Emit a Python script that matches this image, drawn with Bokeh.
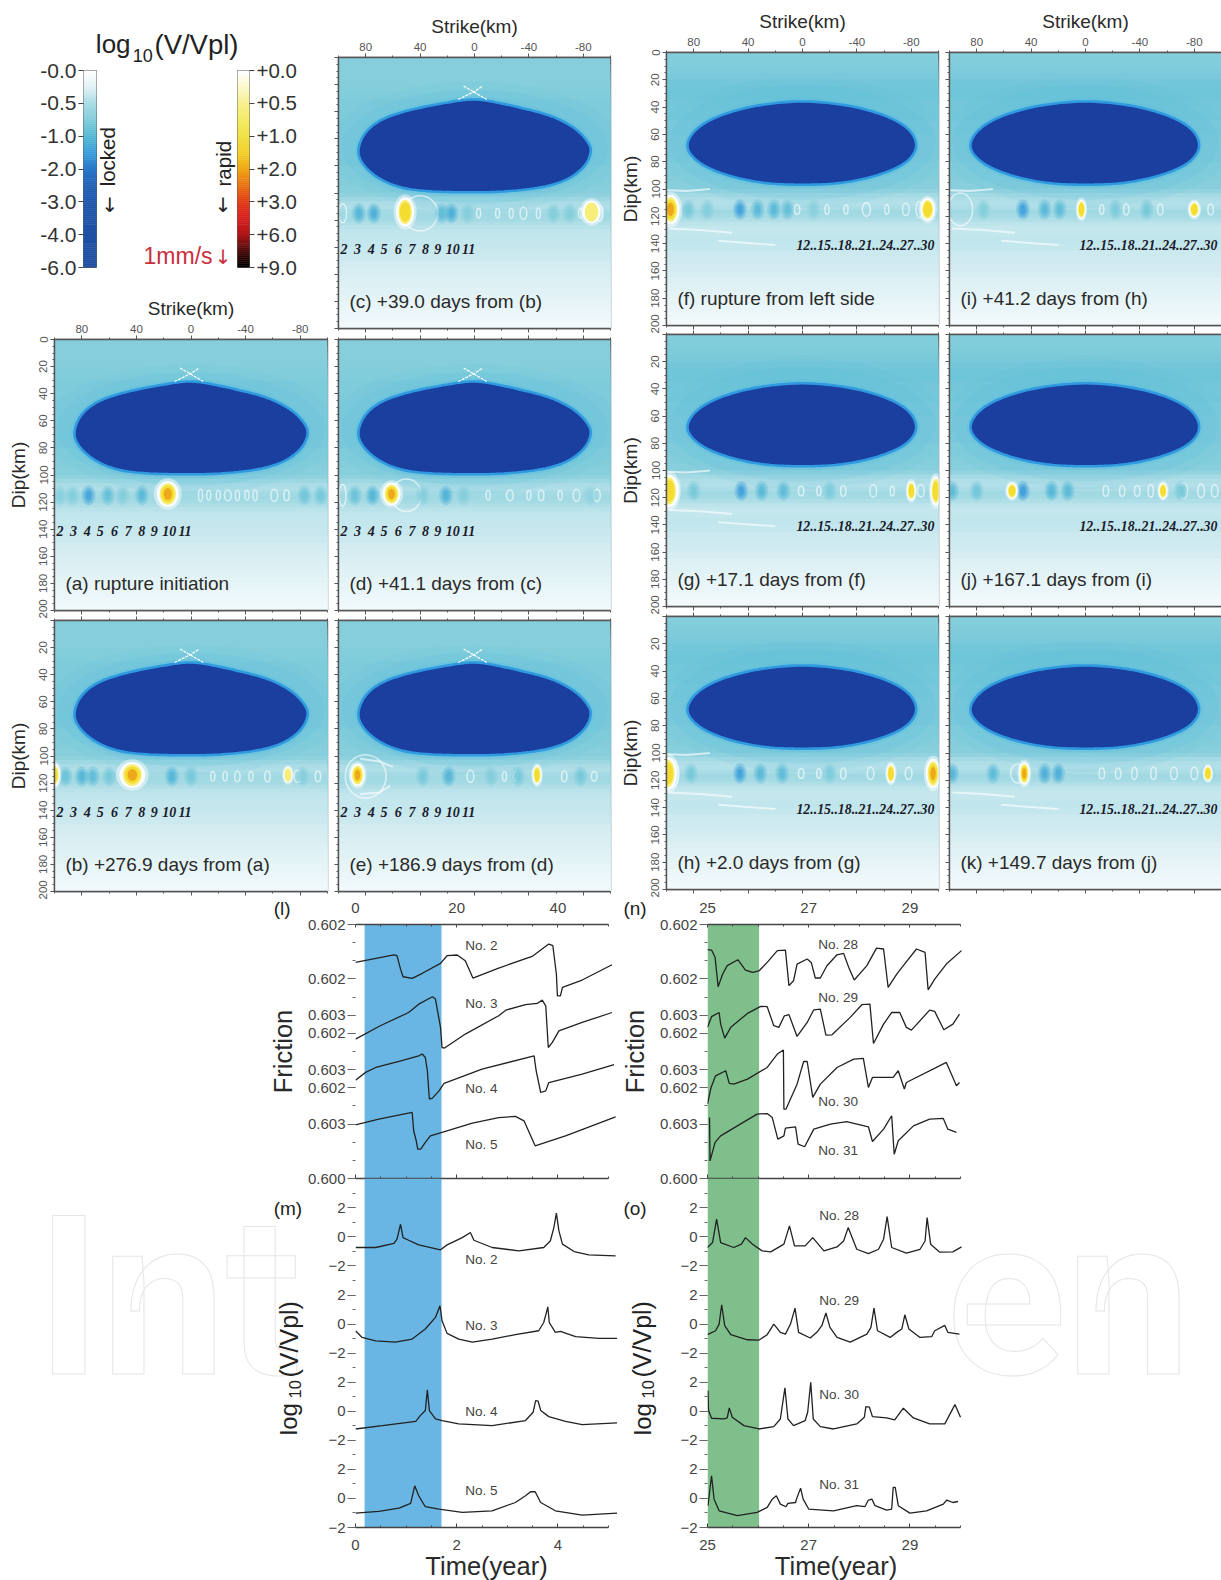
from bokeh.plotting import figure
from bokeh.embed import file_html
from bokeh.resources import INLINE
from bokeh.layouts import column
from bokeh.models import (LinearAxis, FixedTicker, Range1d, LinearColorMapper, ColumnDataSource)
from bokeh.core.properties import value
import numpy as np, math

SANS = "Liberation Sans"
# ---------------------------------------------------------------- colour legend
LOCKED_LABELS = ["-6.0", "-4.0", "-3.0", "-2.0", "-1.0", "-0.5", "-0.0"]
RAPID_LABELS = ["+9.0", "+6.0", "+3.0", "+2.0", "+1.0", "+0.5", "+0.0"]
LOCKED_RAMP = ["#1f4fa0", "#1f50a2", "#1f52a6", "#1f54a8", "#1e57ae", "#2060b6", "#2a78c8", "#3a9edc", "#55b8d4", "#7fcad8", "#a8dce6", "#ddf1f5", "#ffffff"]
RAPID_RAMP = ["#000000", "#4a0808", "#b01818", "#d81e1e", "#e23a14", "#e87010", "#f0a818", "#f2d028", "#f0e040", "#f2ea60", "#f6f090", "#fbf8c8", "#ffffff"]
# background value by dip (log10 V/Vpl)
BG_DIP = [0, 5, 10, 15, 20, 25, 30, 35, 40, 50, 60, 70, 80, 90, 95, 100, 103, 106, 109, 112, 115, 118, 121, 124, 127, 130, 135, 140, 145, 150, 155, 160, 165, 170, 175, 180, 185, 190, 195]
BG_LEFT = [-.56, -.56, -.56, -.57, -.58, -.6, -.62, -.62, -.62, -.62, -.62, -.62, -.6, -.58, -.55, -.5, -.44, -.38, -.36, -.4, -.42, -.4, -.36, -.32, -.28, -.26, -.27, -.25, -.23, -.21, -.19, -.17, -.15, -.14, -.12, -.11, -.1, -.08, -.07]
BG_RIGHT = [-.58, -.6, -.62, -.66, -.7, -.72, -.72, -.7, -.68, -.64, -.62, -.62, -.6, -.58, -.55, -.48, -.4, -.36, -.34, -.38, -.42, -.4, -.36, -.3, -.26, -.26, -.28, -.26, -.24, -.22, -.2, -.18, -.16, -.14, -.12, -.11, -.1, -.08, -.07]
# locked patch outlines (strike, dip)
LOCK_L_S = [86.4, 82.2, 73.6, 61.4, 41.8, 17.4, 0, -16.9, -36.5, -56.1, -73.2, -83, -86.6, -80.5, -65.8, -46.2, -19.3, 0, 29.6, 54, 71.1, 82.2]
LOCK_L_D = [69.6, 57.3, 48.7, 42.6, 37.2, 32.7, 30.3, 33.2, 37.6, 42.6, 51.2, 61, 69.6, 81.9, 91.8, 96.7, 99.2, 99.6, 99.2, 96.7, 89.3, 79.4]
LOCK_R_S = [86.4, 80, 66, 45, 22, 0, -22, -45, -66, -80, -85, -78, -62, -40, -20, 0, 20, 40, 62, 78]
LOCK_R_D = [69, 57, 48, 41, 37, 35.5, 37, 41, 48, 57, 69, 80, 88, 94, 96.5, 97, 96.5, 94, 88, 80]
# asperity row, per panel: (strike, log V) ; (strike, w, h) ; (strike, dip, rx, ry, level)
COOL_A = [(96, -.55), (87, -.6), (75, -1.2), (61, -.85), (50, -.6), (36, -.95), (-83, -.75), (-95, -.7)]
RING_A = [(-7, 3, 9), (-13, 3, 7), (-20, 3, 7), (-27, 5, 8), (-34, 3, 8), (-41, 3, 7), (-47, 3, 8), (-61, 5, 9), (-70, 4, 8)]
HOT_A = [(17, 114, 6, 8, 2)]
COOL_B = [(92, -.8), (80, -1.0), (72, -.9), (60, -.7), (14, -1.0), (0, -.7), (-82, -.6)]
RING_B = [(-16, 3, 7), (-25, 3, 7), (-34, 4, 8), (-44, 3, 7), (-56, 4, 8), (-78, 5, 9), (-93, 4, 8)]
HOT_B = [(100, 114, 3, 7, 1), (43, 114, 7, 8, 2), (-71, 114, 2.5, 5, 0)]
COOL_C = [(85, -1.0), (74, -1.1), (24, -.9), (17, -1.1), (5, -.6), (-58, -.6), (-70, -.6)]
RING_C = [(97, 6, 14), (40, 26, 26), (-3, 3, 7), (-17, 3, 7), (-27, 3, 7), (-36, 5, 9), (-47, 3, 8), (-78, 3, 7), (-92, 5, 12)]
HOT_C = [(51, 114, 5, 9, 1), (-86, 114, 5, 7, 0)]
COOL_D = [(88, -.8), (75, -1.0), (38, -.6), (21, -1.05), (8, -.6), (-85, -.5)]
RING_D = [(97, 5, 16), (50, 22, 24), (-10, 3, 7), (-26, 5, 8), (-40, 3, 7), (-49, 4, 8), (-63, 3, 7), (-75, 5, 9), (-90, 5, 9)]
HOT_D = [(61, 114, 5, 7, 2)]
COOL_E = [(38, -.7), (19, -1.0), (-12, -.6), (-32, -.7), (-78, -.7)]
RING_E = [(80, 30, 32), (3, 5, 9), (-22, 3, 7), (-30, 3, 7), (-66, 4, 8), (-88, 4, 7)]
HOT_E = [(86, 114, 4, 7, 2), (-46, 114, 2.5, 6, 1)]
COOL_F = [(84, -.7), (70, -.6), (46, -1.25), (33, -.95), (21, -.95), (11, -.85), (-8, -.55)]
RING_F = [(4, 4, 7), (-18, 3, 7), (-32, 3, 7), (-47, 6, 10), (-62, 3, 7), (-76, 5, 9), (-86, 5, 12)]
HOT_F = [(97, 115, 5, 9, 2), (-92, 115, 4, 7, 1)]
COOL_G = [(80, -.7), (45, -1.25), (30, -.95), (14, -.9), (-20, -.65)]
RING_G = [(96, 10, 20), (1, 4, 7), (-12, 3, 7), (-30, 4, 8), (-52, 5, 9), (-66, 3, 7), (-87, 5, 9)]
HOT_G = [(98, 115, 5, 10, 1), (-80, 115, 2.5, 6, 1), (-98, 115, 3, 9, 1)]
COOL_H = [(82, -.7), (46, -1.25), (31, -.95), (15, -.9), (-20, -.65)]
RING_H = [(96, 10, 20), (1, 4, 7), (-12, 3, 7), (-30, 4, 8), (-50, 5, 9), (-78, 5, 9)]
HOT_H = [(99, 115, 5, 10, 1), (-65, 115, 2.5, 6, 1), (-96, 115, 4, 9, 2)]
COOL_I = [(75, -.6), (46, -1.25), (30, -.95), (19, -.9), (-22, -.65), (-45, -.7)]
RING_I = [(92, 18, 24), (3, 4, 7), (-12, 3, 7), (-30, 4, 8), (-55, 4, 8), (-92, 4, 8)]
HOT_I = [(3, 115, 2.5, 6, 1), (-80, 115, 3, 5, 1)]
COOL_J = [(98, -.9), (80, -.75), (46, -1.3), (25, -1.0), (13, -.95), (-70, -.7)]
RING_J = [(-15, 4, 8), (-27, 4, 8), (-38, 4, 8), (-48, 4, 9), (-72, 6, 12), (-85, 5, 10), (-95, 5, 9)]
HOT_J = [(54, 115, 3, 5, 1), (-57, 115, 2.5, 5, 1)]
COOL_K = [(98, -1.0), (68, -.9), (30, -1.1), (20, -1.1), (-90, -.8)]
RING_K = [(50, 10, 14), (-12, 4, 8), (-24, 4, 8), (-36, 4, 9), (-50, 4, 9), (-65, 5, 9), (-80, 5, 9)]
HOT_K = [(45, 115, 3, 7, 2), (-90, 115, 2.5, 5, 1)]
STRIKE_NUMS = ["2", "3", "4", "5", "6", "7", "8", "9", "10", "11"]
STRIKE_NUM_POS = [96, 86, 76, 66.5, 56, 46, 36, 27, 16, 4.4]
RIGHT_NUMS = "12..15..18..21..24..27..30"

# ---------------------------------------------------------------- friction traces (stacked axis units)
T2 = [0, .76, .82, .89, .94, 1.12, 1.32, 1.68, 1.81, 2.01, 2.17, 2.32, 2.83, 3.49, 3.82, 3.90, 3.97, 3.99, 4.05, 4.09, 4.48, 5.07]
F2 = [11.91, 12.33, 12.28, 11.54, 11.12, 11.03, 11.31, 11.86, 12.28, 12.32, 12.0, 11.05, 11.6, 12.24, 12.92, 12.83, 11.27, 10.07, 10.07, 10.53, 10.94, 11.78]
T3 = [0, .49, 1.05, 1.25, 1.52, 1.58, 1.68, 1.71, 1.76, 2.17, 2.83, 2.97, 3.36, 3.59, 3.69, 3.76, 3.81, 3.89, 4.02, 4.48, 5.07]
F3 = [7.68, 8.42, 9.15, 9.61, 10.02, 9.89, 8.33, 7.22, 7.19, 7.96, 8.97, 9.28, 9.58, 9.65, 9.83, 9.52, 7.22, 7.5, 8.14, 8.60, 9.15]
T4 = [0, .2, .40, .86, 1.25, 1.32, 1.38, 1.42, 1.46, 1.52, 1.65, 1.75, 2.50, 3.53, 3.57, 3.66, 3.76, 3.82, 4.48, 5.11]
F4 = [5.42, 5.85, 6.12, 6.45, 6.76, 6.86, 6.67, 5.94, 4.38, 4.43, 4.83, 5.24, 6.03, 6.76, 5.94, 4.74, 4.83, 5.29, 5.75, 6.27]
T5 = [0, .46, 1.12, 1.15, 1.20, 1.23, 1.29, 1.38, 1.48, 1.71, 2.31, 2.83, 3.16, 3.33, 3.55, 4.15, 5.14]
F5 = [2.96, 3.27, 3.64, 2.63, 2.08, 1.62, 1.62, 1.99, 2.35, 2.54, 3.05, 3.36, 3.42, 3.18, 1.80, 2.35, 3.40]
T28 = [25, 25.08, 25.15, 25.21, 25.30, 25.39, 25.60, 25.75, 25.89, 26.02, 26.18, 26.38, 26.54, 26.61, 26.70, 26.77, 26.97, 27.05, 27.13, 27.23, 27.36, 27.56, 27.69, 27.79, 27.90, 28.15, 28.34, 28.48, 28.57, 28.74, 28.87, 29.13, 29.30, 29.36, 29.49, 29.72, 30.02]
F28 = [12.61, 12.59, 12.19, 10.57, 11.27, 11.73, 12.06, 11.49, 11.36, 11.45, 11.91, 12.56, 12.59, 10.63, 10.90, 11.82, 12.10, 11.91, 11.05, 11.05, 11.73, 12.33, 12.41, 11.64, 10.94, 11.73, 12.70, 12.65, 10.53, 11.27, 11.73, 12.65, 12.46, 10.40, 10.99, 11.82, 12.56]
T29 = [25, 25.08, 25.23, 25.26, 25.34, 25.46, 25.79, 26.05, 26.18, 26.31, 26.41, 26.52, 26.61, 26.77, 26.97, 27.10, 27.23, 27.34, 27.46, 27.82, 28.05, 28.21, 28.28, 28.48, 28.64, 28.80, 28.93, 29.03, 29.39, 29.49, 29.67, 29.85, 29.98]
F29 = [8.33, 8.92, 9.15, 8.51, 7.74, 8.33, 9.10, 9.49, 9.47, 8.42, 8.33, 8.97, 9.03, 7.83, 8.60, 9.30, 9.34, 7.90, 7.92, 8.88, 9.58, 9.61, 7.44, 8.51, 9.15, 9.15, 8.33, 8.18, 9.28, 9.21, 8.20, 8.51, 9.06]
T30 = [25, 25.07, 25.16, 25.36, 25.43, 25.52, 25.79, 26.18, 26.38, 26.50, 26.51, 26.55, 26.77, 26.90, 26.97, 27.08, 27.23, 27.56, 27.89, 28.08, 28.18, 28.26, 28.67, 28.77, 28.89, 28.93, 29.72, 29.92, 29.98]
F30 = [4.10, 5.02, 5.66, 5.94, 5.24, 5.20, 5.48, 6.12, 6.86, 7.08, 3.82, 3.82, 5.20, 6.45, 6.45, 4.47, 5.20, 6.12, 6.58, 6.62, 5.02, 5.57, 5.57, 5.94, 4.93, 5.29, 6.40, 5.11, 5.29]
T31 = [25.04, 25.05, 25.15, 25.26, 25.59, 25.98, 26.18, 26.28, 26.39, 26.51, 26.54, 26.74, 26.79, 26.92, 27.10, 27.43, 27.75, 28.18, 28.26, 28.48, 28.64, 28.69, 28.77, 29.07, 29.39, 29.66, 29.75, 29.92]
F31 = [3.36, 0.97, 1.99, 2.35, 2.90, 3.55, 3.58, 3.36, 2.17, 2.35, 2.78, 2.85, 1.89, 1.75, 2.72, 3.00, 3.14, 2.85, 2.04, 2.72, 3.46, 1.34, 2.08, 2.90, 3.27, 3.31, 2.72, 2.54]
# ---------------------------------------------------------------- log10(V/Vpl) traces
MT2 = [0, .40, .76, .82, .89, .94, 1.05, 1.25, 1.68, 1.81, 2.11, 2.27, 2.34, 2.70, 3.23, 3.72, 3.85, 3.92, 3.97, 4.02, 4.09, 4.32, 4.61, 5.14]
MV2 = [-.73, -.73, -.44, -.16, .87, -.05, -.23, -.55, -.89, -.55, -.05, .30, -.23, -.73, -.96, -.73, -.28, .64, 1.63, .41, -.50, -1.01, -1.24, -1.31]
MT3 = [0, .13, .40, .79, 1.12, 1.38, 1.58, 1.67, 1.71, 1.81, 2.04, 2.31, 2.70, 3.16, 3.62, 3.72, 3.79, 3.80, 3.83, 3.95, 4.05, 4.35, 4.81, 5.17]
MV3 = [-.46, -.92, -1.15, -1.24, -1.03, -.34, .46, 1.26, .23, -.64, -1.03, -1.24, -1.03, -.73, -.46, .11, 1.03, 1.19, .11, -.57, -.50, -.87, -.99, -.99]
MT4 = [0, .53, 1.19, 1.28, 1.38, 1.42, 1.46, 1.58, 1.71, 2.04, 2.70, 3.36, 3.51, 3.56, 3.61, 3.66, 3.82, 4.15, 4.48, 5.17]
MV4 = [-1.22, -.99, -.69, -.30, .05, 1.47, .05, -.53, -.64, -.87, -.99, -.64, -.07, .73, .69, .05, -.37, -.69, -.92, -.80]
MT5 = [0, .46, .86, 1.09, 1.17, 1.25, 1.38, 1.65, 2.11, 2.70, 3.16, 3.36, 3.46, 3.55, 3.66, 3.95, 4.48, 5.17]
MV5 = [-1.01, -.89, -.67, -.34, .87, .18, -.57, -.73, -.96, -.85, -.28, .18, .46, .46, -.28, -.85, -1.15, -1.01]
OT28 = [25, 25.10, 25.18, 25.26, 25.52, 25.67, 25.75, 25.89, 26.08, 26.25, 26.51, 26.62, 26.72, 26.93, 27.08, 27.30, 27.56, 27.69, 27.78, 27.95, 28.18, 28.38, 28.48, 28.55, 28.64, 28.93, 29.20, 29.30, 29.34, 29.41, 29.59, 29.85, 30.02]
OV28 = [-.73, -.39, 1.22, -.39, -.73, -.50, -.05, -.50, -.96, -1.03, -.50, .76, -.62, -.62, -.05, -.96, -.69, -.28, .64, -.85, -1.15, -.85, -.16, 1.40, -.73, -1.12, -.85, -.28, 1.33, -.50, -1.05, -1.03, -.69]
OT29 = [25, 25.16, 25.23, 25.28, 25.34, 25.46, 25.79, 26.02, 26.18, 26.31, 26.44, 26.54, 26.64, 26.73, 26.80, 27.03, 27.16, 27.26, 27.34, 27.42, 27.56, 27.82, 28.15, 28.23, 28.29, 28.36, 28.61, 28.74, 28.84, 28.90, 28.98, 29.20, 29.43, 29.49, 29.69, 29.75, 29.98]
OV29 = [-.73, -.46, 0, 1.33, -.11, -.73, -1.08, -1.10, -.73, 0, -.57, -.69, 0, 1.10, -.57, -.96, -.57, -.11, .76, -.23, -.92, -1.24, -.69, -.23, 1.10, -.46, -.92, -.57, -.34, .64, -.34, -.92, -.87, -.46, -.09, -.57, -.69]
OT30 = [25.01, 25.02, 25.08, 25.33, 25.39, 25.43, 25.49, 25.72, 26.02, 26.31, 26.44, 26.53, 26.59, 26.70, 26.93, 26.98, 27.04, 27.09, 27.23, 27.49, 27.95, 28.10, 28.13, 28.20, 28.26, 28.54, 28.70, 28.87, 29.07, 29.39, 29.69, 29.89, 30.00]
OV30 = [1.42, .05, -.48, -.53, -.46, .23, -.41, -.99, -1.22, -1.06, -.53, 1.61, -.53, -.99, -.64, -.07, 2.0, -.53, -1.06, -1.22, -.87, -.41, .32, .28, -.37, -.46, -.60, .21, -.46, -.87, -.87, .46, -.41]
OT31 = [25.01, 25.08, 25.13, 25.23, 25.59, 25.98, 26.18, 26.28, 26.36, 26.44, 26.55, 26.59, 26.74, 26.77, 26.84, 26.89, 27.00, 27.49, 27.95, 28.11, 28.18, 28.25, 28.31, 28.54, 28.64, 28.67, 28.71, 28.77, 29.00, 29.33, 29.66, 29.73, 29.85, 29.95]
OV31 = [-.50, 1.56, -.05, -.85, -1.19, -.96, -.62, -.05, .18, -.39, -.57, -.34, -.28, .07, .71, -.05, -.73, -.85, -.50, -.57, -.11, -.05, -.50, -.80, -.73, .76, .76, -.50, -1.01, -.85, -.39, -.11, -.28, -.21]
FRIC_TICK_LABELS = {0: "0.600", 3: "0.603", 5: "0.602", 6: "0.603", 8: "0.602", 9: "0.603", 11: "0.602", 14: "0.602"}
VEL_OFFSETS = [18, 12, 6, 0]
BAND_L = (0.18, 1.70)
BAND_N = (25.0, 26.02)

PAL_STOPS = ["#2560b4", "#2a6ec0", "#2f84d0", "#3a9edc", "#50b4d6", "#6cc4d8", "#8fd2de", "#c8e8ee", "#ffffff"]
def ramp(stops, n):
    c = np.array([[int(s[i:i + 2], 16) for i in (1, 3, 5)] for s in stops], float)
    xs = np.linspace(0, len(stops) - 1, n)
    out = []
    for x in xs:
        out.append("#%02x%02x%02x" % tuple(int(round(np.interp(x, range(len(stops)), c[:, k]))) for k in range(3)))
    return out
MAPPER = LinearColorMapper(palette=ramp(PAL_STOPS, 129), low=-2, high=0)
figs = []

def ramp_colors(vals):
    pal = MAPPER.palette
    return [pal[int(round((v + 2) / 2 * (len(pal) - 1)))] for v in vals]

def place(p, left, top):
    # each figure sits in a column of its own, so that frames are not aligned across figures
    wrap = column(p, styles={"position": "absolute", "left": f"{left}px", "top": f"{top}px"})
    figs.append(wrap)

def chaikin(xs, ys, n=3):
    pts = np.column_stack([xs, ys])
    for _ in range(n):
        nxt = np.roll(pts, -1, axis=0)
        a = .75 * pts + .25 * nxt
        b = .25 * pts + .75 * nxt
        pts = np.empty((2 * len(a), 2))
        pts[0::2] = a
        pts[1::2] = b
    return pts[:, 0], pts[:, 1]

def axis_style(ax, color="#555555"):
    ax.axis_line_color = color
    ax.axis_line_width = 1.4
    ax.major_tick_line_color = color
    ax.minor_tick_line_color = color
    ax.major_label_text_font = SANS
    ax.axis_label_text_font = SANS
    ax.axis_label_text_font_style = "normal"
    ax.axis_label_text_color = "#2a2a2a"

STRIKE_TICKS = [-80, -40, 0, 40, 80]
DIP_TICKS = list(range(0, 201, 20))

def panel(x0, y0, x1, y1, label, bg, lock, cool, rings, hots, streaks, nums, strike_axis=False, dip_labels=None, cusp=True, right_edge=False):
    L, T, R, B = 52, 48, (0 if right_edge else 5), 8
    p = figure(frame_width=x1 - x0, frame_height=y1 - y0, x_range=Range1d(100, -100), y_range=Range1d(200, 0),
               x_axis_location=None, y_axis_location=None, toolbar_location=None, output_backend="svg",
               min_border_left=L, min_border_right=R, min_border_top=T, min_border_bottom=B,
               background_fill_color=None, border_fill_color=None, outline_line_color="#555555", outline_line_width=1.4)
    p.grid.visible = False
    p.quad(left=100, right=-100, top=BG_DIP, bottom=[200] * len(BG_DIP), fill_color=ramp_colors(bg), line_color=None)
    p.ellipse([0], [66], width=215, height=96, fill_color="#5cbcd8", fill_alpha=.1, line_color=None)
    p.ellipse([0], [66], width=196, height=84, fill_color="#4cb4dc", fill_alpha=.12, line_color=None)
    sx, sd = chaikin(*lock)
    p.patch(sx, sd, fill_color=None, line_color="#5cbce0", line_width=7, line_alpha=.35)
    p.patch(sx, sd, fill_color="#1b3f9e", line_color="#2f9ae0", line_width=2.6)
    for s, w, h in rings:
        p.ellipse([s], [115], width=w, height=h, fill_color=None, line_color="white", line_width=1.5, line_alpha=.6)
    if cool:
        cs = [c[0] for c in cool]
        cv = [c[1] for c in cool]
        src = ColumnDataSource(dict(x=cs, y=[115] * len(cs), v=cv))
        fc = {"field": "v", "transform": MAPPER}
        p.ellipse("x", "y", width=10, height=15, fill_color=fc, fill_alpha=.3, line_color=None, source=src)
        p.ellipse("x", "y", width=7, height=11, fill_color=fc, fill_alpha=.45, line_color=None, source=src)
        p.ellipse("x", "y", width=4, height=7, fill_color=fc, fill_alpha=.7, line_color=None, source=src)
    for s, d, rx, ry, lev in hots:
        p.ellipse([s], [d], width=rx * 3.4, height=ry * 2.9, fill_color="white", fill_alpha=.45, line_color=None)
        p.ellipse([s], [d], width=rx * 2.7, height=ry * 2.4, fill_color="white", fill_alpha=.9, line_color=None)
        p.ellipse([s], [d], width=rx * 2, height=ry * 2, fill_color="#f7ee7a", line_color=None)
        if lev >= 1:
            p.ellipse([s], [d], width=rx * 1.6, height=ry * 1.6, fill_color="#f5dc30", line_color=None)
        if lev >= 2:
            p.ellipse([s], [d], width=rx * 1.0, height=ry * 1.1, fill_color="#eea81c", line_color=None)
    for st in streaks:
        p.line([q[0] for q in st], [q[1] for q in st], line_color="white", line_width=2, line_alpha=.6)
    if cusp:
        p.line([8, -9], [21, 31], line_color="white", line_width=1.2, line_dash="3 1")
        p.line([12, 0, -6], [31, 25, 21], line_color="white", line_width=1.2, line_dash="3 1")
    if nums == "left":
        p.text(STRIKE_NUM_POS, [141] * 10, text=STRIKE_NUMS, text_font=value("Liberation Serif"), text_font_style="bold italic",
               text_font_size="14px", text_color="#1a1a2a", text_align="center", text_baseline="middle")
    else:
        p.text([-97], [141], text=[RIGHT_NUMS], text_font=value("Liberation Serif"), text_font_style="bold italic",
               text_font_size="13.8px", text_color="#1a1a2a", text_align="right", text_baseline="middle")
    p.text([92], [180], text=[label], text_font=value(SANS), text_font_size="19px", text_color="#2a2a2a", text_baseline="middle")

    def strike_axis_make(labelled):
        ax = LinearAxis(ticker=FixedTicker(ticks=STRIKE_TICKS, minor_ticks=list(range(-100, 101, 20))))
        axis_style(ax)
        ax.major_tick_out = 4; ax.minor_tick_out = 2; ax.major_tick_in = 0; ax.minor_tick_in = 0
        if labelled:
            ax.major_label_overrides = {-80: "-80", -40: "-40", 0: "0", 40: "40", 80: "80"}
            ax.major_label_text_font_size = "11.5px"
            ax.major_label_text_color = "#555555"
            ax.major_label_standoff = 3
            ax.axis_label = "Strike(km)"
            ax.axis_label_text_font_size = "19px"
            ax.axis_label_standoff = 3
        else:
            ax.major_label_overrides = {t: "" for t in STRIKE_TICKS}
            ax.major_label_text_font_size = "1px"
            ax.major_label_standoff = 0
        return ax
    def dip_axis_make(labels):
        ax = LinearAxis(ticker=FixedTicker(ticks=DIP_TICKS, minor_ticks=list(range(0, 201, 5))))
        axis_style(ax)
        ax.major_tick_out = 4; ax.minor_tick_out = 2; ax.major_tick_in = 0; ax.minor_tick_in = 0
        if labels is not None:
            ax.major_label_overrides = {t: (str(t) if t in labels else "") for t in DIP_TICKS}
            ax.major_label_orientation = "vertical"
            ax.major_label_text_font_size = "11.5px"
            ax.major_label_text_color = "#555555"
            ax.major_label_standoff = 3
            ax.axis_label = "Dip(km)"
            ax.axis_label_text_font_size = "19px"
            ax.axis_label_standoff = 8
        else:
            ax.major_label_overrides = {t: "" for t in DIP_TICKS}
            ax.major_label_text_font_size = "1px"
            ax.major_label_standoff = 0
        return ax
    p.add_layout(strike_axis_make(strike_axis), "above")
    p.add_layout(strike_axis_make(False), "below")
    p.add_layout(dip_axis_make(dip_labels), "left")
    return p, L, T

ALL = DIP_TICKS
NO0 = DIP_TICKS[1:]
S_RIGHT = [[(100, 101), (85, 101.5), (68, 100)], [(98, 129), (75, 130), (52, 132)], [(62, 138), (20, 141)]]
S_E = [[(84, 102), (70, 104), (60, 108)], [(84, 128), (70, 127), (62, 122)]]
LOCK_L = (LOCK_L_S, LOCK_L_D)
LOCK_R = (LOCK_R_S, LOCK_R_D)
SPEC = [
    (54, 339, 327, 610, "(a) rupture initiation", BG_LEFT, LOCK_L, COOL_A, RING_A, HOT_A, [], "left", True, ALL, True),
    (54, 620, 327, 891, "(b) +276.9 days from (a)", BG_LEFT, LOCK_L, COOL_B, RING_B, HOT_B, [], "left", False, NO0, True),
    (338, 57, 610, 328, "(c) +39.0 days from (b)", BG_LEFT, LOCK_L, COOL_C, RING_C, HOT_C, [], "left", True, None, True),
    (338, 339, 610, 610, "(d) +41.1 days from (c)", BG_LEFT, LOCK_L, COOL_D, RING_D, HOT_D, [], "left", False, None, True),
    (338, 620, 610, 891, "(e) +186.9 days from (d)", BG_LEFT, LOCK_L, COOL_E, RING_E, HOT_E, S_E, "left", False, None, True),
    (666, 52, 938, 325, "(f) rupture from left side", BG_RIGHT, LOCK_R, COOL_F, RING_F, HOT_F, S_RIGHT, "right", True, ALL, False),
    (666, 334, 938, 606, "(g) +17.1 days from (f)", BG_RIGHT, LOCK_R, COOL_G, RING_G, HOT_G, S_RIGHT, "right", False, NO0, False),
    (666, 616, 938, 889, "(h) +2.0 days from (g)", BG_RIGHT, LOCK_R, COOL_H, RING_H, HOT_H, S_RIGHT, "right", False, NO0, False),
    (949, 52, 1221, 325, "(i) +41.2 days from (h)", BG_RIGHT, LOCK_R, COOL_I, RING_I, HOT_I, S_RIGHT, "right", True, None, False),
    (949, 334, 1221, 606, "(j) +167.1 days from (i)", BG_RIGHT, LOCK_R, COOL_J, RING_J, HOT_J, [], "right", False, None, False),
    (949, 616, 1221, 889, "(k) +149.7 days from (j)", BG_RIGHT, LOCK_R, COOL_K, RING_K, HOT_K, S_RIGHT[1:], "right", False, None, False),
]

ov = figure(title=None, frame_width=1221, frame_height=1580, x_range=Range1d(0, 1221), y_range=Range1d(1580, 0), x_axis_location=None, y_axis_location=None,
            toolbar_location=None, output_backend="svg", min_border_left=0, min_border_right=0, min_border_top=0, min_border_bottom=0, outline_line_color=None,
            background_fill_color=None, border_fill_color=None)
ov.grid.visible = False
def Tx(x, y, s, size, color="#222222", angle=0, align="left", base="alphabetic", font=SANS, **kw):
    ov.text([x], [y], text=[s], text_font=value(font), text_font_size=f"{size}px", text_color=color, angle=angle,
            text_align=align, text_baseline=base, **kw)
Tx(36, 1304, "Int", 222, color="#ffffff", font="Roboto", text_font_style="bold", text_outline_color="#e6e6e6")
Tx(952, 1304, "en", 222, color="#ffffff", font="Roboto", text_font_style="bold", text_outline_color="#e6e6e6")
Tx(96, 44, "log", 26); Tx(133, 55, "10", 18); Tx(155, 44, "(V/Vpl)", 27.5)
Tx(108, 157, "locked", 20.5, angle=math.pi / 2, align="center", base="middle")
Tx(110, 206, "\u2193", 20, align="center", base="middle", font="DejaVu Sans")
Tx(224, 164, "rapid", 20.5, angle=math.pi / 2, align="center", base="middle")
Tx(224, 206, "\u2193", 20, align="center", base="middle", font="DejaVu Sans")
Tx(144, 257, "1mm/s", 23, color="#c8303c", base="middle")
Tx(224, 258, "\u2193", 20, color="#c8303c", align="center", base="middle", font="DejaVu Sans")
Tx(275, 913, "(l)", 19, base="middle"); Tx(275, 1214, "(m)", 19, base="middle")
Tx(627, 913, "(n)", 19, base="middle"); Tx(627, 1214, "(o)", 19, base="middle")
for xc in (290, 646):
    Tx(xc, 1442, "log", 24, angle=math.pi / 2)
    Tx(xc + 6, 1405, "10", 16.5, angle=math.pi / 2)
    Tx(xc, 1384, "(V/Vpl)", 25, angle=math.pi / 2)
place(ov, 0, 0)

for sp in SPEC:
    x0, y0, x1, y1, label, bg, lock, cool, rings, hots, streaks, nums, sa, dl, cusp = sp
    p, L, Tp = panel(x0, y0, x1, y1, label, bg, lock, cool, rings, hots, streaks, nums, sa, dl, cusp, right_edge=(x1 == 1221))
    place(p, x0 - L, y0 - Tp)

def colorbar(x0, x1, ramp_list, labels, side):
    y0, y1 = 70, 267
    L, R = (60, 4) if side == "left" else (4, 60)
    p = figure(frame_width=x1 - x0, frame_height=y1 - y0, x_range=Range1d(0, 1), y_range=Range1d(0, 6), x_axis_type=None,
               y_axis_location=None, toolbar_location=None, output_backend="svg", min_border_left=L, min_border_right=R,
               min_border_top=16, min_border_bottom=16, background_fill_color=None, border_fill_color=None,
               outline_line_color="#666666", outline_line_width=1)
    p.grid.visible = False
    colors = ramp(ramp_list, 97)
    edges = np.linspace(0, 6, 98)
    p.quad(left=0, right=1, bottom=edges[:-1], top=edges[1:], fill_color=colors, line_color=colors, line_width=.5)
    ax = LinearAxis(ticker=FixedTicker(ticks=list(range(7))))
    ax.major_label_overrides = {i: s for i, s in enumerate(labels)}
    ax.major_label_text_font = SANS
    ax.major_label_text_font_size = "21px" if side == "left" else "20.5px"
    ax.major_label_text_color = "#333333"
    ax.major_tick_out = 5; ax.major_tick_in = 0; ax.major_tick_line_color = "#444444"
    ax.minor_tick_line_color = None; ax.axis_line_color = None; ax.major_label_standoff = 2
    p.add_layout(ax, side)
    place(p, x0 - L, y0 - 16)
colorbar(83, 96, LOCKED_RAMP, LOCKED_LABELS, "left")
colorbar(237, 249, RAPID_RAMP, RAPID_LABELS, "right")

def series_fig(fx0, fx1, fy0, fy1, xr, yr, L, B, band, band_color):
    p = figure(frame_width=fx1 - fx0, frame_height=fy1 - fy0, x_range=Range1d(*xr), y_range=Range1d(*yr), x_axis_location=None,
               y_axis_location=None, toolbar_location=None, output_backend="svg", min_border_left=L, min_border_right=2,
               min_border_top=30, min_border_bottom=B, background_fill_color=None, border_fill_color=None, outline_line_color=None)
    p.grid.visible = False
    p.quad(left=[band[0]], right=[band[1]], bottom=[yr[0]], top=[yr[1]], fill_color=band_color, line_color=None)
    return p

def trace_panel(x_start, fx0, fx1, band, band_color, traces, names, name_x, name_y, kind="fric", xticks=None, top_ticks=None, top_range=None):
    span = (fx1 - fx0) / 50.6
    if kind == "fric":
        p = series_fig(fx0, fx1, 924, 1178, (x_start, x_start + span), (0, 14), 92, 16, band, band_color)
        yax = LinearAxis(ticker=FixedTicker(ticks=list(FRIC_TICK_LABELS), minor_ticks=list(range(15))))
        yax.major_label_overrides = FRIC_TICK_LABELS
        yax.axis_label = "Friction"
        yax.axis_label_text_font_size = "25.5px"
        yax.axis_label_standoff = 8
        for xs, ys in traces:
            assert len(xs) == len(ys), (len(xs), len(ys))
            p.line(xs, ys, line_color="#222222", line_width=1.3)
    else:
        top_val = -2 + (1527 - 1178) / 14.53
        p = series_fig(fx0, fx1, 1178, 1527, (x_start, x_start + span), (-2, top_val), 92, 53, band, band_color)
        lab = {}
        for o in VEL_OFFSETS:
            lab[o - 2] = "\u22122"; lab[o] = "0"; lab[o + 2] = "2"
        yax = LinearAxis(ticker=FixedTicker(ticks=sorted(lab), minor_ticks=list(range(-2, 22))), bounds=(-2, 21))
        yax.major_label_overrides = lab
        for (xs, ys), o in zip(traces, VEL_OFFSETS):
            assert len(xs) == len(ys), (len(xs), len(ys))
            p.line(xs, [v + o for v in ys], line_color="#222222", line_width=1.3)
    axis_style(yax, "#666666")
    yax.axis_line_color = None
    yax.major_tick_out = 8; yax.minor_tick_out = 3; yax.major_tick_in = 0; yax.minor_tick_in = 0
    yax.major_label_text_font_size = "15px"; yax.major_label_text_color = "#444444"; yax.major_label_standoff = 2
    p.add_layout(yax, "left")
    for s, nx, ny in zip(names, name_x, name_y):
        p.text([nx], [ny], text=[s], text_font=value(SANS), text_font_size="13.5px", text_color="#444444", text_baseline="middle")
    minors = [x_start + .5 * i for i in range(11)]
    bot = LinearAxis(ticker=FixedTicker(ticks=xticks, minor_ticks=minors), bounds=(x_start, x_start + 5))
    axis_style(bot, "#444444")
    bot.major_tick_in = 4; bot.minor_tick_in = 2; bot.major_tick_out = 0; bot.minor_tick_out = 0
    if kind == "fric":
        bot.major_label_overrides = {t: "" for t in xticks}
        bot.major_label_text_font_size = "1px"
        top = LinearAxis(x_range_name="top", ticker=FixedTicker(ticks=top_ticks, minor_ticks=list(top_range[2])),
                         bounds=(top_range[0], top_range[0] + top_range[1]))
        p.extra_x_ranges["top"] = Range1d(top_range[0], top_range[0] + span * top_range[1] / 5)
        axis_style(top, "#444444")
        top.major_tick_in = 3; top.minor_tick_in = 2; top.major_tick_out = 0; top.minor_tick_out = 0
        top.major_label_text_font_size = "15px"; top.major_label_text_color = "#444444"; top.major_label_standoff = 12
        p.add_layout(top, "above")
        place_top = 924 - 30
    else:
        bot.axis_label = "Time(year)"
        bot.axis_label_text_font_size = "25.5px"
        bot.axis_label_standoff = -1
        bot.major_label_text_font_size = "15px"; bot.major_label_text_color = "#444444"; bot.major_label_standoff = 12
        place_top = 1178 - 30
    p.add_layout(bot, "below")
    place(p, fx0 - 92, place_top)

trace_panel(0, 355, 617, BAND_L, "#69b6e4", [(T2, F2), (T3, F3), (T4, F4), (T5, F5)], ["No. 2", "No. 3", "No. 4", "No. 5"],
            [2.17] * 4, [12.83, 9.65, 4.98, 1.86], kind="fric", xticks=[0, 2, 4], top_ticks=[0, 20, 40], top_range=(0, 50, range(0, 51, 5)))
trace_panel(0, 355, 617, BAND_L, "#69b6e4", [(MT2, MV2), (MT3, MV3), (MT4, MV4), (MT5, MV5)], ["No. 2", "No. 3", "No. 4", "No. 5"],
            [2.17] * 4, [16.42, 11.88, 5.98, .52], kind="vel", xticks=[0, 2, 4])
trace_panel(25, 707, 964, BAND_N, "#7fbf8b", [(T28, F28), (T29, F29), (T30, F30), (T31, F31)], ["No. 28", "No. 29", "No. 30", "No. 31"],
            [27.19] * 4, [12.92, 9.98, 4.23, 1.53], kind="fric", xticks=[25, 27, 29], top_ticks=[25, 27, 29], top_range=(25, 5, [25 + .5 * i for i in range(11)]))
trace_panel(25, 707, 964, BAND_N, "#7fbf8b", [(OT28, OV28), (OT29, OV29), (OT30, OV30), (OT31, OV31)], ["No. 28", "No. 29", "No. 30", "No. 31"],
            [27.21] * 4, [19.44, 13.6, 7.13, .94], kind="vel", xticks=[25, 27, 29])

root = column(*figs, width=1213, height=1572, sizing_mode="fixed", styles={"position": "relative"})
open("out.html", "w").write(file_html(root, INLINE))
